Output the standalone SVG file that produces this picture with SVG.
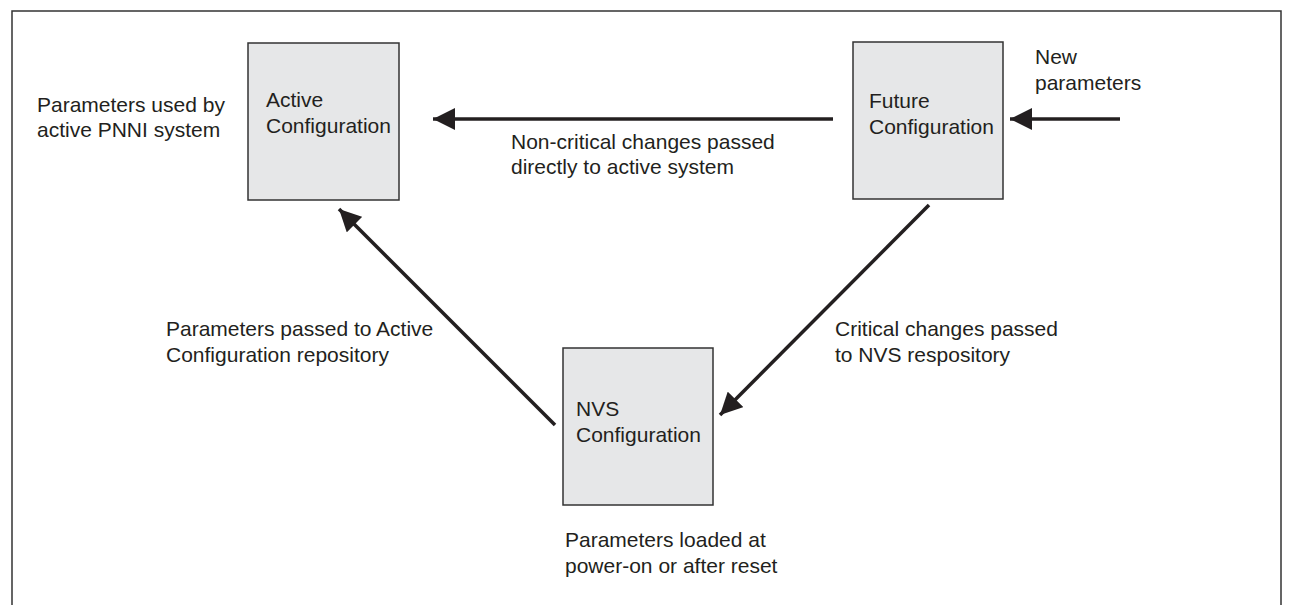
<svg xmlns="http://www.w3.org/2000/svg" width="1293" height="605" viewBox="0 0 1293 605">
  <defs>
    <style>
      .frame { fill: none; stroke: #333; stroke-width: 1.5; }
      .box { fill: #e6e7e8; stroke: #333; stroke-width: 1.5; }
      .lbl { font-family: "Liberation Sans", Arial, sans-serif; font-size: 21px; fill: #231f20; }
      .edge { stroke: #231f20; stroke-width: 3.5; fill: none; marker-end: url(#head); }
    </style>
    <marker id="head" viewBox="0 0 22 22" refX="22" refY="11" markerWidth="22" markerHeight="22" markerUnits="userSpaceOnUse" orient="auto">
      <path d="M0,0 L22,11 L0,22 Z" fill="#231f20"/>
    </marker>
  </defs>

  <rect width="1293" height="605" fill="#fff"/>
  <!-- outer frame, open at the bottom -->
  <path class="frame" d="M12,605 V11 H1281 V605"/>

  <g id="connectors">
    <line class="edge" x1="833" y1="119" x2="433" y2="119"/>
    <line class="edge" x1="1120" y1="119" x2="1010" y2="119"/>
    <line class="edge" x1="929" y1="205" x2="720" y2="415"/>
    <line class="edge" x1="555" y1="425" x2="339" y2="209"/>
  </g>

  <g id="active">
    <rect class="box" x="248" y="43" width="151" height="157"/>
    <text class="lbl" x="266" y="107">Active</text>
    <text class="lbl" x="266" y="133">Configuration</text>
  </g>

  <g id="future">
    <rect class="box" x="853" y="42" width="150" height="157"/>
    <text class="lbl" x="869" y="108">Future</text>
    <text class="lbl" x="869" y="134">Configuration</text>
  </g>

  <g id="nvs">
    <rect class="box" x="563" y="348" width="150" height="157"/>
    <text class="lbl" x="576" y="416">NVS</text>
    <text class="lbl" x="576" y="442">Configuration</text>
  </g>

  <g id="labels">
    <text class="lbl" x="37" y="112">Parameters used by</text>
    <text class="lbl" x="37" y="137">active PNNI system</text>
    <text class="lbl" x="1035" y="64">New</text>
    <text class="lbl" x="1035" y="90">parameters</text>
    <text class="lbl" x="511" y="149">Non-critical changes passed</text>
    <text class="lbl" x="511" y="174">directly to active system</text>
    <text class="lbl" x="166" y="336">Parameters passed to Active</text>
    <text class="lbl" x="166" y="362">Configuration repository</text>
    <text class="lbl" x="835" y="336">Critical changes passed</text>
    <text class="lbl" x="835" y="362">to NVS respository</text>
    <text class="lbl" x="565" y="547">Parameters loaded at</text>
    <text class="lbl" x="565" y="573">power-on or after reset</text>
  </g>
</svg>
